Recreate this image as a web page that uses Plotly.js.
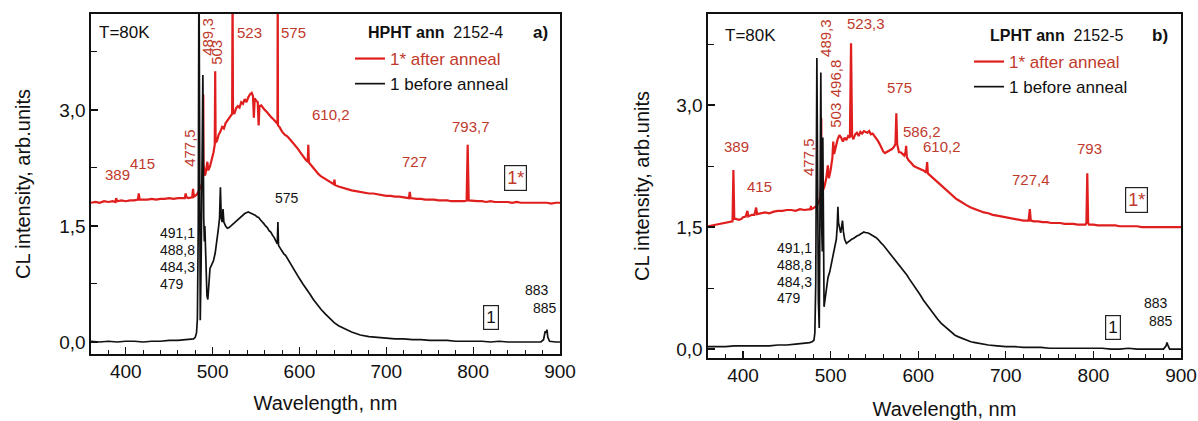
<!DOCTYPE html>
<html><head><meta charset="utf-8">
<script src="https://cdn.plot.ly/plotly-3.0.1.min.js"></script>
<style>html,body{margin:0;padding:0;background:#fff;}#chart{width:1198px;height:421px;}</style>
</head><body><div id="chart"></div>
<script>
// ---------- Panel a) HPHT ann 2152-4 ----------
const aRedX = [360,365,370,375,380,385,388,389,390,395,400,405,410,414,415,416,420,425,430,435,440,445,450,455,460,465,468,469,470,472,475,476.5,477.5,478.5,480,482,484,486,488,489,489.3,489.6,491,492,494,495,497,499,501,502.5,503,503.5,505,507,509,511,513,515,517,519,521,522.5,523,523.5,525,527,529,531,533,535,537,539,541,543,545,546.5,547.5,548.5,550,552,553,554,556,558,560,562,564,566,568,570,572,574,574.7,575,575.3,577,580,583,586,589,592,595,598,601,604,607,609.5,610.2,610.9,613,616,619,622,625,628,631,634,637,639.5,640.3,641,645,650,655,660,665,670,675,680,685,690,695,700,705,710,715,720,726,727,728,735,740,745,750,755,760,765,770,775,780,785,790,792.5,793.7,794.9,800,805,810,815,820,825,830,835,840,845,850,855,860,865,870,875,880,885,890,895,900];
const aRedY = [1.80,1.81,1.80,1.82,1.81,1.82,1.81,1.86,1.82,1.83,1.82,1.83,1.83,1.84,1.92,1.84,1.84,1.84,1.85,1.84,1.85,1.85,1.86,1.85,1.86,1.86,1.86,1.92,1.87,1.86,1.87,1.87,1.98,1.88,1.89,1.91,1.95,2.00,2.05,2.30,3.20,2.30,2.15,2.18,2.33,2.22,2.27,2.35,2.45,2.55,3.50,2.58,2.60,2.68,2.72,2.78,2.76,2.83,2.86,2.90,2.92,2.95,4.60,2.97,2.95,3.02,3.05,3.03,3.10,3.08,3.14,3.10,3.16,3.20,3.22,3.18,2.90,3.15,3.12,3.10,2.80,3.05,3.06,3.02,3.00,2.98,2.95,2.93,2.90,2.88,2.85,2.82,2.82,4.60,2.80,2.78,2.72,2.68,2.66,2.62,2.58,2.55,2.50,2.45,2.40,2.36,2.33,2.55,2.32,2.29,2.25,2.21,2.17,2.14,2.12,2.10,2.08,2.06,2.04,2.10,2.03,2.01,1.99,1.97,1.96,1.95,1.94,1.93,1.92,1.92,1.91,1.90,1.89,1.89,1.88,1.88,1.87,1.86,1.94,1.86,1.85,1.85,1.84,1.84,1.84,1.83,1.83,1.83,1.82,1.82,1.82,1.82,1.83,2.55,1.83,1.82,1.82,1.82,1.81,1.82,1.81,1.81,1.81,1.81,1.80,1.81,1.80,1.80,1.80,1.80,1.80,1.80,1.80,1.79,1.80,1.80];

const aBlkX = [360,370,380,390,400,410,420,430,440,450,460,470,476,478,480,481.5,482.5,483.5,484.3,485,485.8,486.8,487.8,488.8,489.8,490.5,491.1,491.8,492.5,493.5,494.5,495.5,497,499,501,503,505,506.5,508,509,510,511,512,513,515,517,519,521,523,525,527,529,531,533,535,537,539,541,543,545,547,549,551,553,555,557,559,561,563,565,567,569,571,573,574.5,575.2,575.9,578,580,582,584,586,588,590,593,596,600,604,608,612,616,620,625,630,635,640,645,650,655,660,665,670,680,690,700,710,720,730,740,750,760,770,780,790,800,810,820,830,840,850,860,870,878,881,883,884,885,886,888,895,900];
const aBlkY = [0.01,0.00,0.01,0.00,0.01,0.01,0.00,0.01,0.01,0.02,0.02,0.03,0.03,0.04,0.06,0.12,0.30,1.50,5.00,1.20,0.28,1.00,2.50,3.45,1.60,1.30,1.50,1.10,0.85,0.60,0.55,0.75,0.95,1.00,1.05,1.15,1.30,1.45,1.60,2.00,1.60,1.55,1.72,1.55,1.50,1.47,1.48,1.50,1.52,1.55,1.57,1.58,1.61,1.62,1.64,1.66,1.67,1.68,1.67,1.66,1.66,1.64,1.62,1.61,1.58,1.56,1.53,1.50,1.48,1.44,1.42,1.38,1.35,1.30,1.27,1.55,1.25,1.21,1.17,1.14,1.12,1.08,1.06,1.01,0.95,0.89,0.82,0.75,0.69,0.62,0.55,0.49,0.42,0.36,0.30,0.25,0.21,0.18,0.15,0.13,0.11,0.09,0.07,0.06,0.05,0.04,0.04,0.03,0.03,0.02,0.02,0.02,0.01,0.01,0.01,0.01,0.00,0.01,0.00,0.00,0.00,0.00,0.00,0.03,0.14,0.12,0.16,0.06,0.01,0.00,0.00];

// ---------- Panel b) LPHT ann 2152-5 ----------
const bRedX = [360,365,370,375,380,385,388,389,390,392,395,398,400,403,405,406,408,410,413,415,416,420,425,430,435,440,445,450,455,460,465,470,475,477,477.5,478,480,482,484,486,488,489,489.3,489.7,491,493,495,496.8,498,500,502,503,504,506,508,510,512,514,516,518,520,522,523.3,524.5,526,528,530,532,534,536,538,540,542,544,546,548,550,552,554,556,558,560,562,564,566,568,570,572,574,575,576,578,580,582,584,585.5,586.2,587,589,591,593,595,597,599,601,603,605,607,609,610.2,611,613,616,619,622,625,628,631,634,637,640,643,646,650,655,660,665,670,675,680,685,690,695,700,705,710,715,720,726,727.4,728.5,732,737,742,747,752,757,762,767,772,777,782,787,791,792,793,794,795,800,805,810,815,820,825,830,835,840,845,850,855,860,865,870,875,880,885,890,895,900];
const bRedY = [1.51,1.52,1.53,1.54,1.55,1.56,1.57,2.20,1.60,1.60,1.59,1.60,1.62,1.63,1.70,1.63,1.64,1.65,1.65,1.74,1.66,1.67,1.68,1.67,1.69,1.70,1.70,1.71,1.71,1.70,1.72,1.71,1.72,1.72,1.76,1.72,1.73,1.74,1.76,1.80,1.85,2.00,2.84,2.00,1.95,2.00,2.10,2.26,2.10,2.20,2.35,2.55,2.40,2.50,2.58,2.63,2.60,2.55,2.60,2.57,2.62,2.60,3.76,2.62,2.58,2.64,2.66,2.62,2.67,2.65,2.68,2.67,2.66,2.68,2.64,2.65,2.62,2.60,2.56,2.52,2.47,2.43,2.41,2.42,2.43,2.45,2.46,2.48,2.52,2.90,2.52,2.42,2.42,2.40,2.38,2.42,2.50,2.36,2.32,2.30,2.27,2.25,2.24,2.23,2.22,2.21,2.20,2.19,2.17,2.30,2.16,2.14,2.11,2.08,2.05,2.02,1.99,1.96,1.93,1.90,1.87,1.85,1.83,1.80,1.77,1.74,1.72,1.70,1.68,1.67,1.65,1.64,1.63,1.62,1.61,1.60,1.59,1.58,1.58,1.72,1.58,1.57,1.57,1.56,1.56,1.55,1.55,1.55,1.54,1.54,1.54,1.53,1.53,1.53,1.55,2.16,1.55,1.53,1.53,1.52,1.52,1.52,1.52,1.52,1.51,1.51,1.51,1.51,1.51,1.50,1.50,1.50,1.50,1.50,1.50,1.50,1.50,1.50,1.50];

const bBlkX = [360,370,380,390,400,410,420,430,440,450,460,470,476,479,481,482,483,484.3,485,486,487,487.8,488.8,489.8,490.5,491.1,491.8,492.5,493.5,495,497,499,501,503,505,506.5,507.5,508.3,509,510.5,511.5,512.5,513.5,514.5,516,518,520,522,524,526,528,530,532,534,536,538,540,542,544,546,548,550,552,554,556,558,560,563,566,569,572,575,578,581,584,587,590,594,598,602,606,610,614,618,622,626,630,634,638,642,646,650,655,660,665,670,680,690,700,710,720,730,740,750,760,770,780,790,800,810,820,830,840,850,860,870,880,883,884,885,887,890,900];
const bBlkY = [0.03,0.03,0.03,0.04,0.04,0.04,0.04,0.04,0.05,0.05,0.06,0.07,0.08,0.09,0.11,0.20,0.80,3.58,1.50,0.60,0.26,1.40,3.40,1.50,1.20,2.60,0.90,0.52,0.60,0.75,0.88,0.95,1.05,1.15,1.25,1.35,1.50,1.75,1.55,1.45,1.43,1.50,1.58,1.45,1.35,1.30,1.32,1.33,1.35,1.36,1.38,1.39,1.40,1.41,1.43,1.44,1.43,1.43,1.42,1.41,1.40,1.38,1.37,1.35,1.32,1.30,1.28,1.24,1.19,1.15,1.11,1.07,1.03,0.99,0.95,0.91,0.86,0.80,0.73,0.67,0.60,0.54,0.48,0.42,0.37,0.32,0.28,0.24,0.20,0.17,0.15,0.13,0.11,0.09,0.08,0.07,0.05,0.04,0.03,0.03,0.02,0.02,0.02,0.01,0.01,0.01,0.01,0.01,0.01,0.01,0.00,0.00,0.01,0.00,0.00,0.00,0.00,0.04,0.08,0.05,0.00,0.00,0.00];

const xTicks = [400,500,600,700,800,900];
const yTicks = [0,1.5,3.0];
const seriesNames = ['1* after anneal','1 before anneal'];

const RED = '#e01e1e', TXTRED = '#c0392b', BLK = '#111111';

function tr(x, y, color, width, xa, ya, name, leg){
  return {x:x, y:y, type:'scatter', mode:'lines', line:{color:color, width:width},
    xaxis:xa, yaxis:ya, name:name, legend:leg, hoverinfo:'skip'};
}
const redName = '<span style="color:'+TXTRED+'">'+seriesNames[0]+'</span>';
const data = [
  tr(aRedX, aRedY, RED, 2.2, 'x', 'y', redName, 'legend'),
  tr(aBlkX, aBlkY, BLK, 1.7, 'x', 'y', seriesNames[1], 'legend'),
  tr(bRedX, bRedY, RED, 2.2, 'x2', 'y2', redName, 'legend2'),
  tr(bBlkX, bBlkY, BLK, 1.7, 'x2', 'y2', seriesNames[1], 'legend2')
];

function xax(dom, anchor, so){
  return {domain:dom, anchor:anchor, range:[360,900], tickmode:'array', tickvals:xTicks,
    ticks:'inside', ticklen:7, tickwidth:1.2, tickcolor:BLK,
    minor:{ticks:'inside', dtick:20, tick0:0, ticklen:4, tickwidth:1, tickcolor:BLK, showgrid:false},
    showline:true, linewidth:1.6, linecolor:BLK, mirror:true, showgrid:false, zeroline:false,
    tickfont:{size:19, color:BLK},
    title:{text:'Wavelength, nm', font:{size:20, color:BLK}, standoff:so}};
}
function yax(dom, anchor, rng, so){
  return {domain:dom, anchor:anchor, range:rng, tickmode:'array', tickvals:yTicks, tickformat:'.1f',
    ticks:'inside', ticklen:7, tickwidth:1.2, tickcolor:BLK,
    minor:{ticks:'inside', dtick:0.75, tick0:0, ticklen:6, tickwidth:1, tickcolor:BLK, showgrid:false},
    showline:true, linewidth:1.6, linecolor:BLK, mirror:true, showgrid:false, zeroline:false,
    tickfont:{size:19, color:BLK},
    title:{text:'CL intensity, arb.units', font:{size:20, color:BLK}, standoff:so}};
}

function A(text, x, y, p, o){
  const a = Object.assign({text:text, x:x, y:y, xref:p?'x2':'x', yref:p?'y2':'y', showarrow:false,
    font:{size:15, color:TXTRED}}, o||{});
  return a;
}
const rot = {textangle:-90};
const blk14 = {font:{size:14, color:BLK}};
const boxR = {font:{size:18, color:TXTRED}, bordercolor:'#222', borderwidth:1.2, borderpad:2};
const boxK = {font:{size:17, color:BLK}, bordercolor:'#222', borderwidth:1.2, borderpad:2};
const annotations = [
  // panel a
  A('T=80K', 367, 4.0, 0, {xanchor:'left', font:{size:17, color:BLK}}),
  A('<b>HPHT ann</b>  2152-4', 757, 4.0, 0, {font:{size:16, color:BLK}}),
  A('<b>a)</b>', 878, 4.0, 0, {font:{size:17, color:BLK}}),
  A('489,3', 494, 3.95, 0, rot),
  A('503', 505, 3.75, 0, rot),
  A('523', 542, 4.0, 0),
  A('575', 593, 4.0, 0),
  A('477,5', 474, 2.51, 0, rot),
  A('389', 390, 2.16, 0),
  A('415', 419, 2.31, 0),
  A('610,2', 636, 2.94, 0),
  A('793,7', 797, 2.79, 0),
  A('727', 733, 2.33, 0),
  A('1*', 849, 2.12, 0, boxR),
  A('1', 820, 0.32, 0, boxK),
  A('575', 586, 1.86, 0, blk14),
  A('491,1', 437, 1.41, 0, Object.assign({xanchor:'left'}, blk14)),
  A('488,8', 437, 1.19, 0, Object.assign({xanchor:'left'}, blk14)),
  A('484,3', 437, 0.97, 0, Object.assign({xanchor:'left'}, blk14)),
  A('479', 437, 0.75, 0, Object.assign({xanchor:'left'}, blk14)),
  A('883', 873, 0.67, 0, blk14),
  A('885', 883, 0.44, 0, blk14),
  // panel b
  A('T=80K', 377, 3.86, 1, {xanchor:'left', font:{size:17, color:BLK}}),
  A('<b>LPHT ann</b>  2152-5', 758, 3.86, 1, {font:{size:16, color:BLK}}),
  A('<b>b)</b>', 876, 3.86, 1, {font:{size:17, color:BLK}}),
  A('489,3', 494, 3.83, 1, rot),
  A('496,8', 505, 3.33, 1, rot),
  A('503', 506, 2.88, 1, rot),
  A('523,3', 540, 4.0, 1),
  A('477,5', 474, 2.36, 1, rot),
  A('575', 579, 3.22, 1),
  A('586,2', 604, 2.67, 1),
  A('610,2', 627, 2.49, 1),
  A('389', 393, 2.49, 1),
  A('415', 419, 2.0, 1),
  A('727,4', 729, 2.08, 1),
  A('793', 795, 2.47, 1),
  A('1*', 849, 1.83, 1, boxR),
  A('1', 822, 0.27, 1, boxK),
  A('491,1', 436, 1.24, 1, Object.assign({xanchor:'left'}, blk14)),
  A('488,8', 436, 1.03, 1, Object.assign({xanchor:'left'}, blk14)),
  A('484,3', 436, 0.83, 1, Object.assign({xanchor:'left'}, blk14)),
  A('479', 436, 0.63, 1, Object.assign({xanchor:'left'}, blk14)),
  A('883', 871, 0.57, 1, blk14),
  A('885', 877, 0.34, 1, blk14)
];

const W = 1198, H = 421;
const layout = {
  width:W, height:H, margin:{l:0, r:0, t:0, b:0},
  paper_bgcolor:'#fff', plot_bgcolor:'#fff',
  separators:', ',
  font:{family:'"Liberation Sans", Arial, sans-serif', size:17, color:BLK},
  showlegend:true,
  xaxis: xax([91/W, 560/W], 'y', 14),
  yaxis: yax([1-354/H, 1-14/H], 'x', [-0.155, 4.24], 23),
  xaxis2: xax([708/W, 1181/W], 'y2', 16),
  yaxis2: yax([1-358/H, 1-14/H], 'x2', [-0.11, 4.12], 21),
  legend:{x:350/W, y:1-41/H, xanchor:'left', yanchor:'top', bgcolor:'rgba(0,0,0,0)',
    font:{size:17}, tracegroupgap:0, itemwidth:30, borderwidth:0},
  legend2:{x:969/W, y:1-44/H, xanchor:'left', yanchor:'top', bgcolor:'rgba(0,0,0,0)',
    font:{size:17}, tracegroupgap:0, itemwidth:30, borderwidth:0},
  annotations:annotations
};

Plotly.newPlot('chart', data, layout, {displayModeBar:false, staticPlot:true});
</script>
</body></html>
